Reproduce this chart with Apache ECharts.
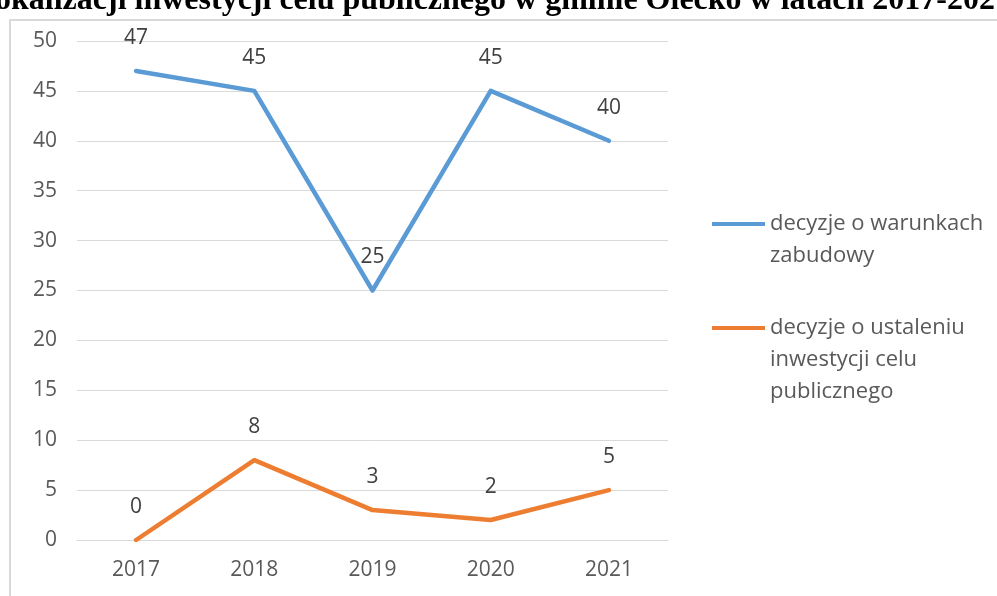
<!DOCTYPE html>
<html><head><meta charset="utf-8">
<script src="https://cdn.jsdelivr.net/npm/echarts@6/dist/echarts.min.js"></script>
<style>html,body{margin:0;padding:0;background:#fff}#c{width:997px;height:596px}</style>
</head><body><div id="c"></div>
<script>
var titleText = 'lokalizacji inwestycji celu publicznego w gminie Olecko w latach 2017-2021';
var years = ['2017', '2018', '2019', '2020', '2021'];
var warunkiZabudowy = [47, 45, 25, 45, 40];
var celPubliczny = [0, 8, 3, 2, 5];
var yTicks = {min: 0, max: 50, interval: 5};
var seriesNames = ['decyzje o warunkach zabudowy', 'decyzje o ustaleniu inwestycji celu publicznego'];
var legendLabels = {};
legendLabels[seriesNames[0]] = '\ndecyzje o warunkach\nzabudowy';
legendLabels[seriesNames[1]] = '\n\ndecyzje o ustaleniu\ninwestycji celu\npublicznego';

var font = '"Open Sans", Lato, sans-serif';
var fs = 21;
var chart = echarts.init(document.getElementById('c'));
function legendCfg(name, top) {
  return {
    data: [name], left: 712, top: top, orient: 'vertical', padding: 0,
    itemWidth: 53, itemHeight: 4, itemGap: 0, icon: 'rect', selectedMode: false,
    formatter: function (n) { return legendLabels[n]; },
    textStyle: {fontFamily: font, fontSize: 22, color: '#595959', lineHeight: 32, padding: [0, 0, 0, 0]}
  };
}
function labelCfg() {
  return {show: true, position: 'top', distance: 22, fontFamily: font, fontSize: fs, lineHeight: 22, color: '#404040'};
}
chart.setOption({
  animation: false,
  title: {
    text: titleText, left: 'center', top: -15, padding: 0,
    textStyle: {fontFamily: '"Liberation Serif", "Times New Roman", serif', fontWeight: 'bold', fontSize: 32, color: '#000'}
  },
  graphic: [{
    type: 'rect', silent: true, z: -1,
    shape: {x: 10, y: 20, width: 1000, height: 600},
    style: {fill: 'none', stroke: '#d9d9d9', lineWidth: 2}
  }],
  legend: [legendCfg(seriesNames[0], 176), legendCfg(seriesNames[1], 248)],
  grid: {left: 77, right: 329, top: 41, bottom: 56, containLabel: false},
  xAxis: {
    type: 'category', data: years, boundaryGap: true,
    axisLine: {lineStyle: {color: '#d9d9d9', width: 1}}, axisTick: {show: false},
    axisLabel: {fontFamily: font, fontSize: fs, color: '#595959', margin: 20}
  },
  yAxis: {
    type: 'value', min: yTicks.min, max: yTicks.max, interval: yTicks.interval,
    axisLine: {show: false}, axisTick: {show: false},
    splitLine: {lineStyle: {color: '#d9d9d9', width: 1}},
    axisLabel: {fontFamily: font, fontSize: fs, color: '#595959', margin: 20}
  },
  series: [{
    name: seriesNames[0], type: 'line', data: warunkiZabudowy, showSymbol: true, symbol: 'circle', symbolSize: 0,
    lineStyle: {color: '#5b9bd5', width: 4.5, cap: 'round', join: 'round'}, itemStyle: {color: '#5b9bd5'},
    label: labelCfg()
  }, {
    name: seriesNames[1], type: 'line', data: celPubliczny, showSymbol: true, symbol: 'circle', symbolSize: 0,
    lineStyle: {color: '#ed7d31', width: 4.5, cap: 'round', join: 'round'}, itemStyle: {color: '#ed7d31'},
    label: labelCfg()
  }]
});
</script></body></html>
